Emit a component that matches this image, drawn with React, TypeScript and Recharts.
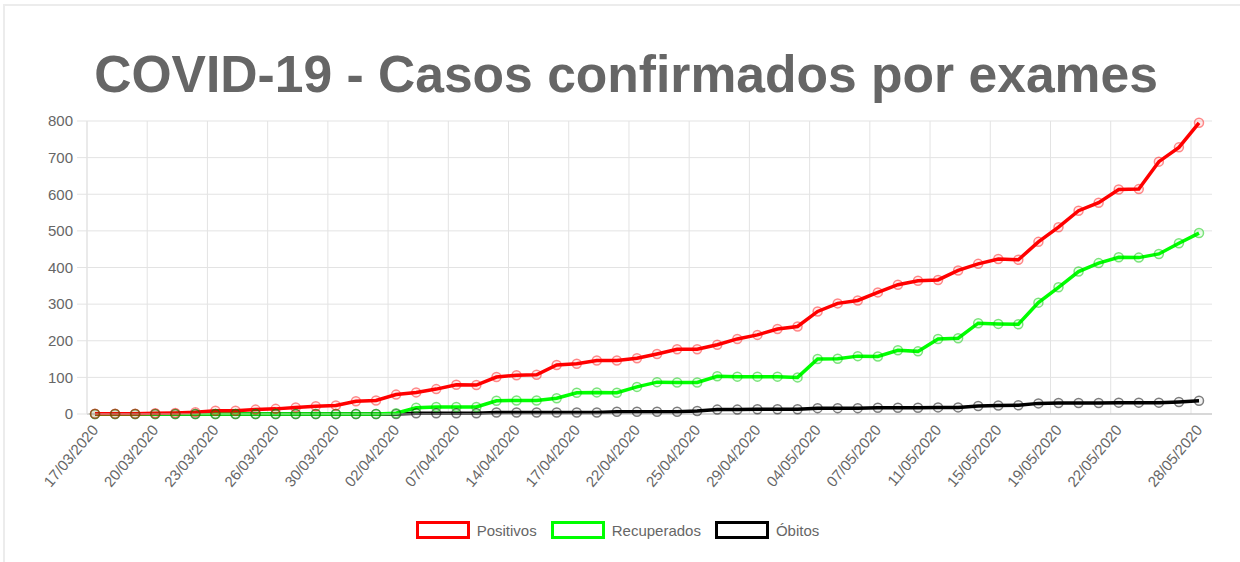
import { LineChart, Line, XAxis, YAxis, CartesianGrid, Legend } from "recharts";

const FONT = "'Liberation Sans', Arial, Helvetica, sans-serif";

const dates = [
  "17/03/2020", "18/03/2020", "19/03/2020", "20/03/2020", "21/03/2020", "22/03/2020",
  "23/03/2020", "24/03/2020", "25/03/2020", "26/03/2020", "27/03/2020", "28/03/2020",
  "30/03/2020", "31/03/2020", "01/04/2020", "02/04/2020", "03/04/2020", "06/04/2020",
  "07/04/2020", "08/04/2020", "13/04/2020", "14/04/2020", "15/04/2020", "16/04/2020",
  "17/04/2020", "18/04/2020", "20/04/2020", "22/04/2020", "23/04/2020", "24/04/2020",
  "25/04/2020", "27/04/2020", "28/04/2020", "29/04/2020", "30/04/2020", "01/05/2020",
  "04/05/2020", "05/05/2020", "06/05/2020", "07/05/2020", "08/05/2020", "09/05/2020",
  "11/05/2020", "12/05/2020", "13/05/2020", "15/05/2020", "16/05/2020", "18/05/2020",
  "19/05/2020", "20/05/2020", "21/05/2020", "22/05/2020", "23/05/2020", "25/05/2020",
  "26/05/2020", "28/05/2020",
];

const positivos = [
  1, 1, 1, 2, 3, 5, 9, 9, 12, 14, 18, 21, 23, 35, 37, 53, 59, 68, 80, 79,
  101, 106, 107, 134, 137, 146, 146, 152, 164, 177, 177, 189, 205, 216, 232, 239,
  280, 302, 310, 332, 353, 364, 366, 392, 410, 423, 421, 470, 510, 555, 577, 613, 614, 689, 728, 795,
];

const recuperados = [
  0, 0, 0, 0, 0, 0, 0, 0, 0, 0, 0, 0, 0, 0, 0, 2, 17, 19, 19, 19,
  36, 37, 37, 43, 58, 59, 58, 74, 87, 86, 86, 103, 102, 102, 102, 100,
  150, 151, 158, 157, 174, 171, 205, 207, 248, 246, 245, 304, 346, 389, 412, 428, 427, 437, 466, 494,
];

const obitos = [
  0, 0, 0, 0, 0, 0, 0, 0, 0, 0, 0, 0, 0, 0, 0, 0, 2, 2, 2, 2,
  4, 4, 4, 4, 4, 4, 6, 6, 6, 6, 8, 12, 12, 13, 13, 13,
  16, 16, 16, 17, 17, 17, 18, 18, 22, 23, 24, 29, 30, 30, 30, 31, 31, 31, 33, 36,
];

const xTicks = [
  "17/03/2020", "20/03/2020", "23/03/2020", "26/03/2020", "30/03/2020", "02/04/2020",
  "07/04/2020", "14/04/2020", "17/04/2020", "22/04/2020", "25/04/2020", "29/04/2020",
  "04/05/2020", "07/05/2020", "11/05/2020", "15/05/2020", "19/05/2020", "22/05/2020",
  "28/05/2020",
];

const yTicks = [0, 100, 200, 300, 400, 500, 600, 700, 800];

const series = [
  { key: "positivos", name: "Positivos", color: "#ff0000", ring: "rgba(255,0,0,0.45)", fill: "rgba(255,0,0,0.08)" },
  { key: "recuperados", name: "Recuperados", color: "#00ff00", ring: "rgba(0,200,0,0.5)", fill: "rgba(0,255,0,0.08)" },
  { key: "obitos", name: "Óbitos", color: "#000000", ring: "rgba(0,0,0,0.5)", fill: "rgba(0,0,0,0.05)" },
];

const PAD_LEFT = 8;
const PAD_RIGHT = 13;

const data = dates.map((d, i) => ({
  date: d,
  positivos: positivos[i],
  recuperados: recuperados[i],
  obitos: obitos[i],
}));

function DateTick({ x, y, payload }: any) {
  return (
    <g transform={`translate(${x},${y})`}>
      <text
        textAnchor="end"
        transform="rotate(-50)"
        dy="0.35em"
        fill="#666"
        fontSize={15}
        fontFamily={FONT}
      >
        {payload.value}
      </text>
    </g>
  );
}

function ChartLegend() {
  return (
    <div
      style={{
        display: "flex",
        justifyContent: "center",
        alignItems: "center",
        gap: 14,
        fontFamily: FONT,
        fontSize: 15,
        color: "#666",
      }}
    >
      {series.map((s) => (
        <div key={s.key} style={{ display: "flex", alignItems: "center" }}>
          <span
            style={{
              display: "inline-block",
              width: 54,
              height: 18,
              boxSizing: "border-box",
              border: `3px solid ${s.color}`,
              marginRight: 7,
            }}
          />
          {s.name}
        </div>
      ))}
    </div>
  );
}

// chart.js draws the category grid lines a bit left of the points
const gridX = ({ xAxis, offset }: any) => {
  if (xAxis && typeof xAxis.scale === "function") {
    const v = xTicks.map((t) => xAxis.scale(t));
    if (v.every((n) => typeof n === "number" && !isNaN(n))) return v.map((n) => n - 8);
  }
  if (!offset) return [];
  const step = (offset.width - PAD_LEFT - PAD_RIGHT) / (dates.length - 1);
  return xTicks.map((t) => offset.left + PAD_LEFT + dates.indexOf(t) * step - 8);
};

export default function App() {
  return (
    <div
      style={{
        position: "absolute",
        left: 0,
        top: 0,
        width: 1240,
        height: 562,
        background: "#fff",
        overflow: "hidden",
      }}
    >
      <div
        style={{
          position: "absolute",
          left: 3,
          top: 4,
          right: 0,
          bottom: 0,
          borderTop: "2px solid #ececec",
          borderLeft: "2px solid #ececec",
        }}
      />
      <div
        style={{
          position: "absolute",
          left: 6,
          top: 48,
          width: 1240,
          textAlign: "center",
          fontFamily: FONT,
          fontWeight: "bold",
          fontSize: 51.6,
          lineHeight: "52px",
          color: "#666",
          whiteSpace: "nowrap",
        }}
      >
        COVID-19 - Casos confirmados por exames
      </div>
      <div style={{ position: "absolute", left: 0, top: 0 }}>
        <LineChart
          width={1240}
          height={562}
          data={data}
          margin={{ top: 121, right: 28, bottom: 88, left: 0 }}
        >
          <CartesianGrid
            stroke="#e3e3e3"
            strokeWidth={1}
            verticalCoordinatesGenerator={gridX}
          />
          <XAxis
            dataKey="date"
            ticks={xTicks}
            interval={0}
            height={60}
            padding={{ left: PAD_LEFT, right: PAD_RIGHT }}
            tickLine={false}
            tickSize={0}
            tickMargin={13}
            axisLine={{ stroke: "#bfbfbf", strokeWidth: 1 }}
            tick={<DateTick />}
          />
          <YAxis
            domain={[0, 800]}
            ticks={yTicks}
            width={87}
            tickSize={10}
            tickMargin={4}
            tickLine={{ stroke: "#e3e3e3" }}
            axisLine={{ stroke: "#e3e3e3" }}
            tick={{ fill: "#666", fontSize: 15, fontFamily: FONT }}
          />
          <Legend
            layout="horizontal"
            verticalAlign="middle"
            align="center"
            content={<ChartLegend />}
            wrapperStyle={{ top: 521, left: 0, width: 1235, height: 18 }}
          />
          {[...series].reverse().map((s) => (
            <Line
              key={s.key}
              type="linear"
              dataKey={s.key}
              name={s.name}
              stroke={s.color}
              strokeWidth={3.5}
              dot={{ r: 4.5, stroke: s.ring, strokeWidth: 1.5, fill: s.fill }}
              isAnimationActive={false}
            />
          ))}
        </LineChart>
      </div>
    </div>
  );
}
